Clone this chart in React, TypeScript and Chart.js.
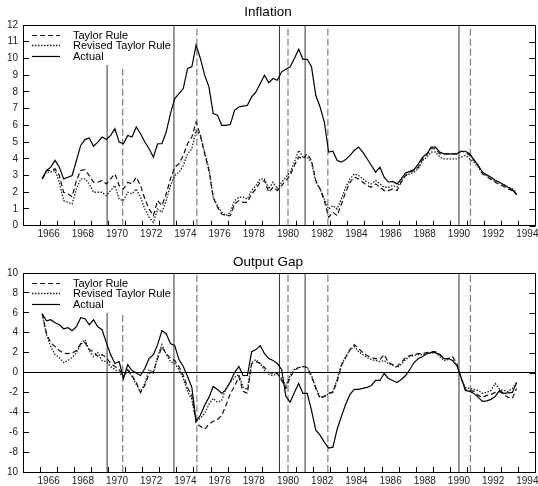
import React, { useEffect, useRef } from "react";
import { Chart, registerables } from "chart.js";

Chart.register(...registerables);

const FONT = '"Liberation Sans", Arial, Helvetica, sans-serif';

// Quarterly observation dates (mid-quarter), 1966Q1 .. 1993Q4
const QUARTERS: number[] = Array.from({ length: 112 }, (_, i) => 1966.125 + 0.25 * i);

// Year tick marks on the x axis
const YEAR_TICKS = [
  1966, 1967, 1968, 1969, 1970, 1971, 1972, 1973, 1974, 1975, 1976, 1977, 1978, 1979, 1980,
  1981, 1982, 1983, 1984, 1985, 1986, 1987, 1988, 1989, 1990, 1991, 1992, 1993, 1994,
];

// Recession dates (peaks: solid lines, troughs: dashed lines)
const PEAKS = [1969.92, 1973.83, 1980.0, 1981.5, 1990.5];
const TROUGHS = [1970.83, 1975.17, 1980.5, 1982.83, 1991.17];
const INFL_LINE_TOPS = [9.6, 12, 12, 12, 12];
const GAP_LINE_TOPS = [6, 10, 10, 10, 10];

const LEGEND_LABELS = ["Taylor Rule", "Revised Taylor Rule", "Actual"];

// ---------- Inflation ----------
const INFL_TAYLOR = [
  2.8, 3.3, 3.3, 3.4, // 1966
  3.0, 2.0, 1.9, 1.75, // 1967
  2.7, 3.3, 3.35, 3.0, // 1968
  2.6, 2.6, 2.7, 2.5, // 1969
  2.8, 3.1, 2.4, 2.2, // 1970
  2.6, 2.5, 2.9, 2.4, // 1971
  1.6, 1.0, 0.6, 1.5, // 1972
  1.2, 1.9, 2.8, 3.5, // 1973
  3.7, 4.2, 4.9, 5.3, // 1974
  6.2, 5.4, 4.3, 3.3, // 1975
  1.7, 1.1, 0.7, 0.6, // 1976
  0.6, 1.3, 1.5, 1.4, // 1977
  1.4, 1.9, 2.2, 2.6, // 1978
  2.7, 2.0, 2.3, 2.1, // 1979
  2.4, 2.7, 3.0, 3.6, // 1980
  4.1, 4.0, 4.3, 3.9, // 1981
  2.7, 2.2, 1.5, 0.5, // 1982
  0.8, 0.6, 1.3, 2.0, // 1983
  2.6, 2.9, 2.8, 2.6, // 1984
  2.4, 2.3, 2.5, 2.3, // 1985
  2.1, 2.1, 2.2, 2.1, // 1986
  2.6, 3.0, 3.2, 3.3, // 1987
  3.5, 4.0, 4.25, 4.6, // 1988
  4.6, 4.3, 4.3, 4.3, // 1989
  4.3, 4.3, 4.45, 4.4, // 1990
  4.2, 3.9, 3.6, 3.1, // 1991
  2.95, 2.75, 2.6, 2.45, // 1992
  2.35, 2.2, 2.1, 1.9, // 1993
];

const INFL_REVISED = [
  2.8, 3.2, 3.2, 3.3, // 1966
  2.6, 1.5, 1.4, 1.3, // 1967
  2.2, 2.8, 2.8, 2.5, // 1968
  2.0, 2.0, 2.0, 1.8, // 1969
  2.1, 2.4, 1.6, 1.5, // 1970
  2.0, 1.9, 2.2, 1.7, // 1971
  1.0, 0.5, 0.2, 1.0, // 1972
  0.8, 1.5, 2.4, 3.0, // 1973
  3.2, 3.6, 4.3, 4.6, // 1974
  5.7, 5.4, 4.4, 3.4, // 1975
  1.7, 1.2, 0.8, 0.6, // 1976
  0.8, 1.5, 1.7, 1.7, // 1977
  1.6, 2.1, 2.4, 2.8, // 1978
  2.8, 2.2, 2.6, 2.2, // 1979
  2.6, 2.9, 3.2, 3.8, // 1980
  4.5, 4.1, 4.1, 3.8, // 1981
  2.6, 2.2, 1.6, 1.0, // 1982
  1.2, 1.0, 1.6, 2.3, // 1983
  2.8, 3.1, 3.0, 2.8, // 1984
  2.6, 2.5, 2.7, 2.5, // 1985
  2.3, 2.3, 2.4, 2.3, // 1986
  2.7, 3.0, 3.1, 3.2, // 1987
  3.4, 3.9, 4.1, 4.4, // 1988
  4.4, 4.1, 4.0, 4.0, // 1989
  4.0, 4.0, 4.1, 4.2, // 1990
  4.0, 3.8, 3.5, 3.1, // 1991
  3.0, 2.8, 2.7, 2.55, // 1992
  2.45, 2.3, 2.2, 2.0, // 1993
];

const INFL_ACTUAL = [
  2.8, 3.3, 3.5, 3.9, // 1966
  3.5, 2.8, 2.9, 3.0, // 1967
  3.9, 4.8, 5.15, 5.25, // 1968
  4.75, 5.0, 5.3, 5.15, // 1969
  5.4, 5.8, 5.0, 4.9, // 1970
  5.4, 5.3, 5.9, 5.5, // 1971
  5.0, 4.6, 4.1, 4.9, // 1972
  4.9, 5.6, 6.7, 7.6, // 1973
  7.9, 8.2, 9.4, 9.5, // 1974
  10.8, 10.0, 9.0, 8.3, // 1975
  6.7, 6.6, 6.0, 6.0, // 1976
  6.05, 6.9, 7.1, 7.15, // 1977
  7.2, 7.7, 8.0, 8.5, // 1978
  9.0, 8.55, 8.8, 8.7, // 1979
  9.2, 9.35, 9.5, 10.0, // 1980
  10.55, 9.95, 9.95, 9.5, // 1981
  7.8, 7.1, 6.2, 4.4, // 1982
  4.45, 3.9, 3.8, 3.95, // 1983
  4.2, 4.5, 4.7, 4.4, // 1984
  4.0, 3.6, 3.2, 3.5, // 1985
  2.9, 2.6, 2.65, 2.5, // 1986
  2.8, 3.15, 3.25, 3.35, // 1987
  3.7, 4.1, 4.3, 4.7, // 1988
  4.7, 4.4, 4.3, 4.3, // 1989
  4.3, 4.3, 4.45, 4.45, // 1990
  4.3, 3.95, 3.6, 3.2, // 1991
  3.05, 2.9, 2.7, 2.6, // 1992
  2.45, 2.3, 2.15, 1.85, // 1993
];

// ---------- Output gap ----------
const GAP_TAYLOR = [
  5.9, 3.9, 3.0, 2.6, // 1966
  2.2, 1.95, 1.9, 1.95, // 1967
  2.2, 2.9, 3.0, 2.3, // 1968
  2.1, 1.6, 1.8, 1.5, // 1969
  0.9, 0.6, 0.3, -0.4, // 1970
  0.3, -0.3, -1.0, -2.0, // 1971
  -1.3, -0.1, 0.1, 1.4, // 1972
  2.6, 1.9, 1.4, 1.2, // 1973
  0.6, -0.3, -1.5, -2.3, // 1974
  -5.1, -5.4, -5.7, -5.2, // 1975
  -4.9, -4.75, -4.3, -3.3, // 1976
  -2.1, -1.4, -0.4, -1.9, // 1977
  -2.1, 0.9, 1.1, 0.9, // 1978
  0.5, 0.0, -0.1, -0.1, // 1979
  -0.8, -1.6, -0.5, 0.2, // 1980
  0.5, 0.6, 0.5, -0.4, // 1981
  -1.6, -2.6, -2.4, -2.1, // 1982
  -2.0, -0.9, 0.7, 1.5, // 1983
  2.3, 2.8, 2.4, 2.0, // 1984
  1.7, 1.5, 1.4, 1.3, // 1985
  1.8, 1.0, 0.8, 0.6, // 1986
  1.0, 1.5, 1.7, 1.8, // 1987
  1.9, 1.9, 2.0, 2.1, // 1988
  2.1, 1.8, 1.4, 1.4, // 1989
  1.6, 0.9, -0.6, -1.7, // 1990
  -1.8, -1.9, -2.3, -2.5, // 1991
  -2.3, -2.2, -2.0, -1.9, // 1992
  -2.2, -2.5, -2.6, -1.6, // 1993
];

const GAP_REVISED = [
  5.9, 3.8, 2.6, 1.8, // 1966
  1.5, 1.0, 1.2, 1.5, // 1967
  2.0, 2.8, 3.3, 2.2, // 1968
  1.6, 2.0, 1.2, 1.1, // 1969
  0.6, 0.3, 0.0, -0.5, // 1970
  0.3, -0.4, -1.2, -2.0, // 1971
  -1.1, 0.3, -0.05, 1.6, // 1972
  2.8, 1.8, 1.1, 0.9, // 1973
  0.3, -0.6, -1.9, -2.7, // 1974
  -4.9, -4.6, -4.1, -3.2, // 1975
  -2.6, -3.0, -2.8, -1.6, // 1976
  -1.0, -0.5, -0.2, -1.5, // 1977
  -1.7, 1.0, 1.3, 0.9, // 1978
  0.2, -0.2, -0.3, -0.1, // 1979
  -0.6, -1.3, -0.3, 0.3, // 1980
  0.5, 0.6, 0.5, -0.3, // 1981
  -1.5, -2.5, -2.4, -2.1, // 1982
  -1.9, -0.7, 0.8, 1.6, // 1983
  2.3, 2.6, 2.1, 1.8, // 1984
  1.5, 1.3, 1.2, 1.1, // 1985
  1.2, 0.9, 0.7, 0.5, // 1986
  0.8, 1.3, 1.6, 1.7, // 1987
  1.8, 1.8, 1.9, 2.0, // 1988
  2.0, 1.6, 1.2, 1.3, // 1989
  1.3, 0.7, -0.6, -1.5, // 1990
  -1.6, -1.7, -1.8, -2.1, // 1991
  -2.0, -1.8, -1.1, -1.7, // 1992
  -1.8, -1.9, -1.6, -1.0, // 1993
];

const GAP_ACTUAL = [
  5.9, 5.2, 5.3, 5.0, // 1966
  4.8, 4.4, 4.5, 4.2, // 1967
  4.6, 5.5, 5.4, 4.8, // 1968
  5.3, 4.6, 4.3, 3.0, // 1969
  1.8, 0.9, 1.1, -0.6, // 1970
  0.8, 0.2, -0.05, -0.3, // 1971
  0.4, 1.4, 1.8, 2.8, // 1972
  4.2, 3.9, 2.9, 2.7, // 1973
  1.3, 0.6, -0.4, -1.5, // 1974
  -4.9, -4.3, -3.3, -2.5, // 1975
  -1.4, -1.7, -2.1, -1.7, // 1976
  -0.9, 0.0, 0.6, -0.3, // 1977
  -0.3, 2.1, 2.3, 2.7, // 1978
  1.9, 1.4, 1.2, 0.9, // 1979
  0.3, -2.4, -3.0, -2.0, // 1980
  -1.1, -2.1, -2.1, -3.8, // 1981
  -5.8, -6.3, -7.0, -7.6, // 1982
  -7.5, -5.7, -4.4, -3.2, // 1983
  -2.2, -1.7, -1.7, -1.6, // 1984
  -1.5, -1.3, -0.8, -0.8, // 1985
  -0.1, -0.6, -0.8, -1.0, // 1986
  -0.7, -0.3, 0.3, 1.0, // 1987
  1.4, 1.6, 1.9, 2.0, // 1988
  2.0, 1.8, 1.4, 1.4, // 1989
  1.2, 0.7, -0.5, -1.8, // 1990
  -1.9, -2.1, -2.5, -2.9, // 1991
  -2.85, -2.7, -2.4, -1.8, // 1992
  -2.1, -2.05, -2.0, -1.0, // 1993
];

type PanelSpec = {
  title: string;
  height: number;
  yMin: number;
  yMax: number;
  zeroLine: boolean;
  taylor: number[];
  revised: number[];
  actual: number[];
  lineTops: number[];
  titlePadTop: number;
  titlePadBottom: number;
  xAxisHeight: number;
  yLabel: (v: number) => string;
};

const SERIES_STYLE = [
  { dash: [5, 3], color: "#111", width: 1.2 },
  { dash: [1.5, 1.5], color: "#222", width: 1.3 },
  { dash: [], color: "#000", width: 1.2 },
];

const framePlugin = {
  id: "frameAndLegend",
  afterDatasetsDraw(chart: any) {
    const { ctx, chartArea: a, scales } = chart;
    ctx.save();
    ctx.strokeStyle = "#000";
    ctx.lineWidth = 1;
    ctx.setLineDash([]);
    const top = Math.round(a.top) + 0.5;
    const right = Math.round(a.right) - 0.5;
    ctx.beginPath();
    ctx.moveTo(a.left, top);
    ctx.lineTo(a.right, top);
    ctx.moveTo(right, a.top);
    ctx.lineTo(right, a.bottom);
    // mirrored inside ticks on the right side
    for (const t of scales.y.ticks) {
      const y = Math.round(scales.y.getPixelForValue(t.value)) + 0.5;
      ctx.moveTo(right, y);
      ctx.lineTo(right - 6, y);
    }
    ctx.stroke();

    // legend
    const rows = [10, 20.3, 30.6];
    ctx.font = `11px ${FONT}`;
    ctx.textBaseline = "middle";
    ctx.fillStyle = "#000";
    LEGEND_LABELS.forEach((label, i) => {
      const st = SERIES_STYLE[i];
      const y = Math.round(a.top + rows[i]) + 0.5;
      ctx.beginPath();
      ctx.strokeStyle = st.color;
      ctx.lineWidth = st.width;
      ctx.setLineDash(st.dash);
      ctx.moveTo(a.left + 9, y);
      ctx.lineTo(a.left + 37, y);
      ctx.stroke();
      ctx.fillText(label, a.left + 50, y);
    });
    ctx.restore();
  },
};

function buildConfig(p: PanelSpec): any {
  const seriesData = [p.taylor, p.revised, p.actual];
  const datasets: any[] = seriesData.map((arr, i) => ({
    label: LEGEND_LABELS[i],
    data: QUARTERS.map((x, k) => ({ x, y: arr[k] })),
    borderColor: SERIES_STYLE[i].color,
    borderWidth: SERIES_STYLE[i].width,
    borderDash: SERIES_STYLE[i].dash,
    pointRadius: 0,
    fill: false,
    tension: 0,
  }));
  PEAKS.forEach((x, i) => {
    datasets.push({
      label: "peak",
      data: [
        { x, y: p.yMin },
        { x, y: p.lineTops[i] },
      ],
      borderColor: "#333",
      borderWidth: 1,
      pointRadius: 0,
    });
  });
  TROUGHS.forEach((x, i) => {
    datasets.push({
      label: "trough",
      data: [
        { x, y: p.yMin },
        { x, y: p.lineTops[i] },
      ],
      borderColor: "#888",
      borderWidth: 1.3,
      borderDash: [7, 3],
      pointRadius: 0,
    });
  });

  const yTicks: number[] = [];
  for (let v = p.yMin; v <= p.yMax; v++) yTicks.push(v);

  return {
    type: "line",
    data: { datasets },
    options: {
      responsive: false,
      devicePixelRatio: 1,
      animation: false,
      events: [],
      layout: { padding: { left: 0, right: 2, top: 0, bottom: 0 } },
      plugins: {
        legend: { display: false },
        tooltip: { enabled: false },
        title: {
          display: true,
          text: p.title,
          color: "#000",
          font: { family: FONT, size: 13.5, weight: "normal", lineHeight: 1.2 },
          padding: { top: p.titlePadTop, bottom: p.titlePadBottom },
        },
      },
      scales: {
        x: {
          type: "linear",
          min: 1965,
          max: 1995,
          afterBuildTicks: (s: any) => {
            s.ticks = YEAR_TICKS.map((v) => ({ value: v }));
          },
          afterFit: (s: any) => {
            s.height = p.xAxisHeight;
          },
          ticks: {
            autoSkip: false,
            maxRotation: 0,
            minRotation: 0,
            labelOffset: 8.55,
            padding: 8,
            color: "#222",
            font: { family: FONT, size: 10 },
            callback: (v: number) => (v % 2 === 0 ? String(v) : ""),
          },
          grid: {
            drawOnChartArea: false,
            tickLength: -5,
            tickColor: "#000",
            tickWidth: 1,
          },
          border: { display: true, color: "#000", width: 1 },
        },
        y: {
          type: "linear",
          min: p.yMin,
          max: p.yMax,
          afterBuildTicks: (s: any) => {
            s.ticks = yTicks.map((v) => ({ value: v }));
          },
          afterFit: (s: any) => {
            s.width = 23;
            s.paddingTop = 6;
            s.paddingBottom = 6;
          },
          ticks: {
            padding: 11,
            color: "#222",
            font: { family: FONT, size: 10 },
            callback: (v: number) => p.yLabel(v),
          },
          grid: {
            drawOnChartArea: true,
            color: (c: any) =>
              p.zeroLine && c.tick && c.tick.value === 0 ? "#000" : "rgba(0,0,0,0)",
            lineWidth: 1,
            tickLength: -6,
            tickColor: "#000",
            tickWidth: 1,
          },
          border: { display: true, color: "#000", width: 1 },
        },
      },
    },
    plugins: [framePlugin],
  };
}

const INFLATION_PANEL: PanelSpec = {
  title: "Inflation",
  height: 248,
  yMin: 0,
  yMax: 12,
  zeroLine: false,
  taylor: INFL_TAYLOR,
  revised: INFL_REVISED,
  actual: INFL_ACTUAL,
  lineTops: INFL_LINE_TOPS,
  titlePadTop: 3.9,
  titlePadBottom: 4.9,
  xAxisHeight: 22.3,
  yLabel: (v) => String(v),
};

const GAP_PANEL: PanelSpec = {
  title: "Output Gap",
  height: 238,
  yMin: -10,
  yMax: 10,
  zeroLine: true,
  taylor: GAP_TAYLOR,
  revised: GAP_REVISED,
  actual: GAP_ACTUAL,
  lineTops: GAP_LINE_TOPS,
  titlePadTop: 5.9,
  titlePadBottom: 2.9,
  xAxisHeight: 14,
  yLabel: (v) => (v === -10 ? "10" : v % 2 === 0 ? String(v) : ""),
};

function Panel({ spec }: { spec: PanelSpec }) {
  const ref = useRef<HTMLCanvasElement>(null);
  useEffect(() => {
    const chart = new Chart(ref.current as HTMLCanvasElement, buildConfig(spec));
    return () => chart.destroy();
  }, [spec]);
  return (
    <canvas
      ref={ref}
      width={538}
      height={spec.height}
      style={{ display: "block", width: 538, height: spec.height }}
    />
  );
}

export default function App() {
  return (
    <div
      style={{
        position: "absolute",
        left: 0,
        top: 0,
        width: 538,
        height: 486,
        background: "#fff",
      }}
    >
      <Panel spec={INFLATION_PANEL} />
      <Panel spec={GAP_PANEL} />
    </div>
  );
}
